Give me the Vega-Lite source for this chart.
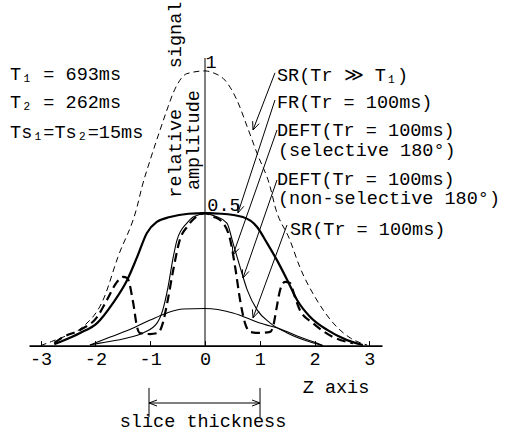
{
  "$schema": "https://vega.github.io/schema/vega-lite/v6.json",
  "width": 353,
  "height": 287.6,
  "autosize": {"type": "none"},
  "padding": {"left": 29, "top": 58, "right": 129, "bottom": 86.4},
  "background": "white",
  "config": {
    "view": {"stroke": null},
    "font": "Liberation Mono",
    "text": {"font": "Liberation Mono", "fontSize": 18.5, "color": "black"},
    "line": {"color": "black", "interpolate": "monotone"},
    "rule": {"color": "black", "strokeWidth": 1}
  },
  "datasets": {
    "profiles": [
      {"curve": "SR_long", "z": -3.0, "amp": 0.0},
      {"curve": "SR_long", "z": -2.8, "amp": 0.015},
      {"curve": "SR_long", "z": -2.59, "amp": 0.031},
      {"curve": "SR_long", "z": -2.23, "amp": 0.068},
      {"curve": "SR_long", "z": -1.86, "amp": 0.166},
      {"curve": "SR_long", "z": -1.59, "amp": 0.322},
      {"curve": "SR_long", "z": -1.24, "amp": 0.505},
      {"curve": "SR_long", "z": -1.15, "amp": 0.578},
      {"curve": "SR_long", "z": -1.0, "amp": 0.676},
      {"curve": "SR_long", "z": -0.82, "amp": 0.785},
      {"curve": "SR_long", "z": -0.675, "amp": 0.869},
      {"curve": "SR_long", "z": -0.58, "amp": 0.92},
      {"curve": "SR_long", "z": -0.51, "amp": 0.949},
      {"curve": "SR_long", "z": -0.33, "amp": 0.99},
      {"curve": "SR_long", "z": 0.0, "amp": 1.0},
      {"curve": "SR_long", "z": 0.15, "amp": 0.993},
      {"curve": "SR_long", "z": 0.36, "amp": 0.967},
      {"curve": "SR_long", "z": 0.58, "amp": 0.895},
      {"curve": "SR_long", "z": 0.77, "amp": 0.797},
      {"curve": "SR_long", "z": 0.95, "amp": 0.7},
      {"curve": "SR_long", "z": 1.19, "amp": 0.577},
      {"curve": "SR_long", "z": 1.28, "amp": 0.505},
      {"curve": "SR_long", "z": 1.55, "amp": 0.384},
      {"curve": "SR_long", "z": 1.73, "amp": 0.286},
      {"curve": "SR_long", "z": 2.04, "amp": 0.166},
      {"curve": "SR_long", "z": 2.34, "amp": 0.082},
      {"curve": "SR_long", "z": 2.65, "amp": 0.028},
      {"curve": "SR_long", "z": 2.96, "amp": 0.002},

      {"curve": "FR", "z": -2.75, "amp": 0.005},
      {"curve": "FR", "z": -2.65, "amp": 0.013},
      {"curve": "FR", "z": -2.28, "amp": 0.046},
      {"curve": "FR", "z": -1.97, "amp": 0.082},
      {"curve": "FR", "z": -1.68, "amp": 0.155},
      {"curve": "FR", "z": -1.42, "amp": 0.239},
      {"curve": "FR", "z": -1.24, "amp": 0.322},
      {"curve": "FR", "z": -1.06, "amp": 0.41},
      {"curve": "FR", "z": -0.88, "amp": 0.45},
      {"curve": "FR", "z": -0.64, "amp": 0.468},
      {"curve": "FR", "z": -0.3, "amp": 0.48},
      {"curve": "FR", "z": 0.0, "amp": 0.482},
      {"curve": "FR", "z": 0.3, "amp": 0.48},
      {"curve": "FR", "z": 0.69, "amp": 0.468},
      {"curve": "FR", "z": 0.95, "amp": 0.432},
      {"curve": "FR", "z": 1.13, "amp": 0.374},
      {"curve": "FR", "z": 1.31, "amp": 0.312},
      {"curve": "FR", "z": 1.5, "amp": 0.239},
      {"curve": "FR", "z": 1.68, "amp": 0.166},
      {"curve": "FR", "z": 1.92, "amp": 0.104},
      {"curve": "FR", "z": 2.23, "amp": 0.057},
      {"curve": "FR", "z": 2.59, "amp": 0.02},
      {"curve": "FR", "z": 2.88, "amp": 0.002},

      {"curve": "DEFT_sel", "z": -2.1, "amp": 0.002},
      {"curve": "DEFT_sel", "z": -1.92, "amp": 0.009},
      {"curve": "DEFT_sel", "z": -1.42, "amp": 0.028},
      {"curve": "DEFT_sel", "z": -1.13, "amp": 0.046},
      {"curve": "DEFT_sel", "z": -0.876, "amp": 0.082},
      {"curve": "DEFT_sel", "z": -0.77, "amp": 0.13},
      {"curve": "DEFT_sel", "z": -0.675, "amp": 0.213},
      {"curve": "DEFT_sel", "z": -0.58, "amp": 0.322},
      {"curve": "DEFT_sel", "z": -0.51, "amp": 0.385},
      {"curve": "DEFT_sel", "z": -0.33, "amp": 0.446},
      {"curve": "DEFT_sel", "z": -0.2, "amp": 0.47},
      {"curve": "DEFT_sel", "z": 0.0, "amp": 0.48},
      {"curve": "DEFT_sel", "z": 0.2, "amp": 0.47},
      {"curve": "DEFT_sel", "z": 0.4, "amp": 0.446},
      {"curve": "DEFT_sel", "z": 0.51, "amp": 0.374},
      {"curve": "DEFT_sel", "z": 0.64, "amp": 0.286},
      {"curve": "DEFT_sel", "z": 0.77, "amp": 0.203},
      {"curve": "DEFT_sel", "z": 0.95, "amp": 0.13},
      {"curve": "DEFT_sel", "z": 1.19, "amp": 0.082},
      {"curve": "DEFT_sel", "z": 1.5, "amp": 0.046},
      {"curve": "DEFT_sel", "z": 1.92, "amp": 0.013},
      {"curve": "DEFT_sel", "z": 2.15, "amp": 0.0},

      {"curve": "DEFT_nonsel", "z": -2.75, "amp": 0.01},
      {"curve": "DEFT_nonsel", "z": -2.59, "amp": 0.031},
      {"curve": "DEFT_nonsel", "z": -2.28, "amp": 0.057},
      {"curve": "DEFT_nonsel", "z": -1.97, "amp": 0.104},
      {"curve": "DEFT_nonsel", "z": -1.79, "amp": 0.166},
      {"curve": "DEFT_nonsel", "z": -1.62, "amp": 0.228},
      {"curve": "DEFT_nonsel", "z": -1.5, "amp": 0.25},
      {"curve": "DEFT_nonsel", "z": -1.42, "amp": 0.246},
      {"curve": "DEFT_nonsel", "z": -1.31, "amp": 0.155},
      {"curve": "DEFT_nonsel", "z": -1.24, "amp": 0.068},
      {"curve": "DEFT_nonsel", "z": -1.19, "amp": 0.046},
      {"curve": "DEFT_nonsel", "z": -1.0, "amp": 0.042},
      {"curve": "DEFT_nonsel", "z": -0.86, "amp": 0.046},
      {"curve": "DEFT_nonsel", "z": -0.77, "amp": 0.082},
      {"curve": "DEFT_nonsel", "z": -0.69, "amp": 0.155},
      {"curve": "DEFT_nonsel", "z": -0.58, "amp": 0.275},
      {"curve": "DEFT_nonsel", "z": -0.46, "amp": 0.385},
      {"curve": "DEFT_nonsel", "z": -0.33, "amp": 0.432},
      {"curve": "DEFT_nonsel", "z": -0.15, "amp": 0.47},
      {"curve": "DEFT_nonsel", "z": 0.0, "amp": 0.482},
      {"curve": "DEFT_nonsel", "z": 0.15, "amp": 0.47},
      {"curve": "DEFT_nonsel", "z": 0.33, "amp": 0.446},
      {"curve": "DEFT_nonsel", "z": 0.46, "amp": 0.385},
      {"curve": "DEFT_nonsel", "z": 0.55, "amp": 0.286},
      {"curve": "DEFT_nonsel", "z": 0.64, "amp": 0.166},
      {"curve": "DEFT_nonsel", "z": 0.73, "amp": 0.082},
      {"curve": "DEFT_nonsel", "z": 0.82, "amp": 0.05},
      {"curve": "DEFT_nonsel", "z": 1.0, "amp": 0.046},
      {"curve": "DEFT_nonsel", "z": 1.19, "amp": 0.05},
      {"curve": "DEFT_nonsel", "z": 1.24, "amp": 0.068},
      {"curve": "DEFT_nonsel", "z": 1.31, "amp": 0.141},
      {"curve": "DEFT_nonsel", "z": 1.37, "amp": 0.202},
      {"curve": "DEFT_nonsel", "z": 1.46, "amp": 0.232},
      {"curve": "DEFT_nonsel", "z": 1.55, "amp": 0.228},
      {"curve": "DEFT_nonsel", "z": 1.64, "amp": 0.177},
      {"curve": "DEFT_nonsel", "z": 1.73, "amp": 0.13},
      {"curve": "DEFT_nonsel", "z": 1.97, "amp": 0.082},
      {"curve": "DEFT_nonsel", "z": 2.34, "amp": 0.031},
      {"curve": "DEFT_nonsel", "z": 2.7, "amp": 0.009},

      {"curve": "SR_100", "z": -2.1, "amp": 0.002},
      {"curve": "SR_100", "z": -1.73, "amp": 0.031},
      {"curve": "SR_100", "z": -1.31, "amp": 0.064},
      {"curve": "SR_100", "z": -1.0, "amp": 0.093},
      {"curve": "SR_100", "z": -0.69, "amp": 0.119},
      {"curve": "SR_100", "z": -0.4, "amp": 0.133},
      {"curve": "SR_100", "z": 0.0, "amp": 0.135},
      {"curve": "SR_100", "z": 0.51, "amp": 0.119},
      {"curve": "SR_100", "z": 1.0, "amp": 0.082},
      {"curve": "SR_100", "z": 1.42, "amp": 0.057},
      {"curve": "SR_100", "z": 1.73, "amp": 0.031},
      {"curve": "SR_100", "z": 2.04, "amp": 0.009},
      {"curve": "SR_100", "z": 2.15, "amp": 0.0}
    ],
    "segments": [
      {"part": "amplitude axis", "z": 0, "amp": 0, "z2": 0, "amp2": 1.047},
      {"part": "tick 0.5", "z": -0.09, "amp": 0.483, "z2": 0.13, "amp2": 0.483},
      {"part": "SR long leader", "z": 1.277, "amp": 0.993, "z2": 0.876, "amp2": 0.785},
      {"part": "SR long head", "z": 0.876, "amp": 0.785, "z2": 0.989, "amp2": 0.808},
      {"part": "SR long head", "z": 0.876, "amp": 0.785, "z2": 0.869, "amp2": 0.817},
      {"part": "FR leader", "z": 1.277, "amp": 0.894, "z2": 0.602, "amp2": 0.483},
      {"part": "FR head", "z": 0.602, "amp": 0.483, "z2": 0.708, "amp2": 0.507},
      {"part": "FR head", "z": 0.602, "amp": 0.483, "z2": 0.588, "amp2": 0.515},
      {"part": "DEFT sel leader", "z": 1.314, "amp": 0.785, "z2": 0.511, "amp2": 0.33},
      {"part": "DEFT sel head", "z": 0.511, "amp": 0.33, "z2": 0.62, "amp2": 0.353},
      {"part": "DEFT sel head", "z": 0.511, "amp": 0.33, "z2": 0.5, "amp2": 0.362},
      {"part": "DEFT nonsel leader", "z": 1.314, "amp": 0.603, "z2": 0.693, "amp2": 0.246},
      {"part": "DEFT nonsel head", "z": 0.693, "amp": 0.246, "z2": 0.801, "amp2": 0.27},
      {"part": "DEFT nonsel head", "z": 0.693, "amp": 0.246, "z2": 0.681, "amp2": 0.278},
      {"part": "SR 100 leader", "z": 1.496, "amp": 0.439, "z2": 0.876, "amp2": 0.101},
      {"part": "SR 100 head", "z": 0.876, "amp": 0.101, "z2": 0.985, "amp2": 0.124},
      {"part": "SR 100 head", "z": 0.876, "amp": 0.101, "z2": 0.865, "amp2": 0.132},
      {"part": "slice arrow", "z": -1.022, "amp": -0.209, "z2": 1.004, "amp2": -0.209},
      {"part": "slice head left", "z": -1.022, "amp": -0.209, "z2": -0.876, "amp2": -0.198},
      {"part": "slice head left", "z": -1.022, "amp": -0.209, "z2": -0.876, "amp2": -0.22},
      {"part": "slice head right", "z": 1.004, "amp": -0.209, "z2": 0.858, "amp2": -0.198},
      {"part": "slice head right", "z": 1.004, "amp": -0.209, "z2": 0.858, "amp2": -0.22},
      {"part": "slice bar", "z": -1.022, "amp": -0.154, "z2": -1.022, "amp2": -0.26},
      {"part": "slice bar", "z": 1.004, "amp": -0.154, "z2": 1.004, "amp2": -0.26}
    ],
    "labels": [
      {"anchor": "left", "z": -3.558, "amp": 0.989, "text": "T₁ = 693ms"},
      {"anchor": "left", "z": -3.558, "amp": 0.886, "text": "T₂ = 262ms"},
      {"anchor": "left", "z": -3.558, "amp": 0.778, "text": "Ts₁=Ts₂=15ms"},
      {"anchor": "left", "z": 1.314, "amp": 0.985, "text": "SR(Tr ≫ T₁)"},
      {"anchor": "left", "z": 1.314, "amp": 0.886, "text": "FR(Tr = 100ms)"},
      {"anchor": "left", "z": 1.314, "amp": 0.785, "text": "DEFT(Tr = 100ms)"},
      {"anchor": "left", "z": 1.332, "amp": 0.712, "text": "(selective 180°)"},
      {"anchor": "left", "z": 1.314, "amp": 0.607, "text": "DEFT(Tr = 100ms)"},
      {"anchor": "left", "z": 1.332, "amp": 0.537, "text": "(non-selective 180°)"},
      {"anchor": "left", "z": 1.551, "amp": 0.425, "text": "SR(Tr = 100ms)"},
      {"anchor": "center", "z": 0.109, "amp": 1.032, "text": "1"},
      {"anchor": "center", "z": 0.347, "amp": 0.512, "text": "0.5"},
      {"anchor": "center", "z": 2.391, "amp": -0.151, "text": "Z axis"},
      {"anchor": "center", "z": -0.036, "amp": -0.275, "text": "slice thickness"},
      {"anchor": "vertical", "z": -0.547, "amp": 1.131, "text": "signal"},
      {"anchor": "vertical", "z": -0.547, "amp": 0.7, "text": "relative"},
      {"anchor": "vertical", "z": -0.219, "amp": 0.748, "text": "amplitude"}
    ]
  },
  "encoding": {
    "x": {
      "field": "z", "type": "quantitative",
      "scale": {"domain": [-3.212, 3.23], "nice": false, "zero": false},
      "axis": {
        "values": [-3, -2, -1, 0, 1, 2, 3],
        "title": null, "grid": false,
        "tickSize": -5, "tickColor": "black", "tickWidth": 1,
        "domainColor": "black", "domainWidth": 1.6,
        "labelColor": "black", "labelFont": "Liberation Mono", "labelFontSize": 18.5,
        "labelPadding": 9, "labelFlush": false, "labelOverlap": false,
        "labelExpr": "datum.value < 0 ? '-' + (-datum.value) : '' + datum.value"
      }
    },
    "y": {
      "field": "amp", "type": "quantitative",
      "scale": {"domain": [0, 1.047], "nice": false, "zero": false},
      "axis": null
    }
  },
  "layer": [
    {
      "data": {"name": "profiles"},
      "transform": [{"filter": "datum.curve === 'SR_long'"}],
      "mark": {"type": "line", "strokeWidth": 1, "strokeDash": [6, 4]}
    },
    {
      "data": {"name": "profiles"},
      "transform": [{"filter": "datum.curve === 'FR'"}],
      "mark": {"type": "line", "strokeWidth": 2.2}
    },
    {
      "data": {"name": "profiles"},
      "transform": [{"filter": "datum.curve === 'DEFT_sel'"}],
      "mark": {"type": "line", "strokeWidth": 1.1}
    },
    {
      "data": {"name": "profiles"},
      "transform": [{"filter": "datum.curve === 'DEFT_nonsel'"}],
      "mark": {"type": "line", "strokeWidth": 2.2, "strokeDash": [9, 5]}
    },
    {
      "data": {"name": "profiles"},
      "transform": [{"filter": "datum.curve === 'SR_100'"}],
      "mark": {"type": "line", "strokeWidth": 1.1}
    },
    {
      "data": {"name": "segments"},
      "mark": {"type": "rule", "strokeWidth": 1},
      "encoding": {
        "x2": {"field": "z2"},
        "y2": {"field": "amp2"}
      }
    },
    {
      "data": {"name": "labels"},
      "transform": [{"filter": "datum.anchor === 'left'"}],
      "mark": {"type": "text", "align": "left", "baseline": "middle"},
      "encoding": {"text": {"field": "text"}}
    },
    {
      "data": {"name": "labels"},
      "transform": [{"filter": "datum.anchor === 'center'"}],
      "mark": {"type": "text", "align": "center", "baseline": "middle"},
      "encoding": {"text": {"field": "text"}}
    },
    {
      "data": {"name": "labels"},
      "transform": [{"filter": "datum.anchor === 'vertical'"}],
      "mark": {"type": "text", "align": "center", "baseline": "middle", "angle": 270},
      "encoding": {"text": {"field": "text"}}
    }
  ]
}
